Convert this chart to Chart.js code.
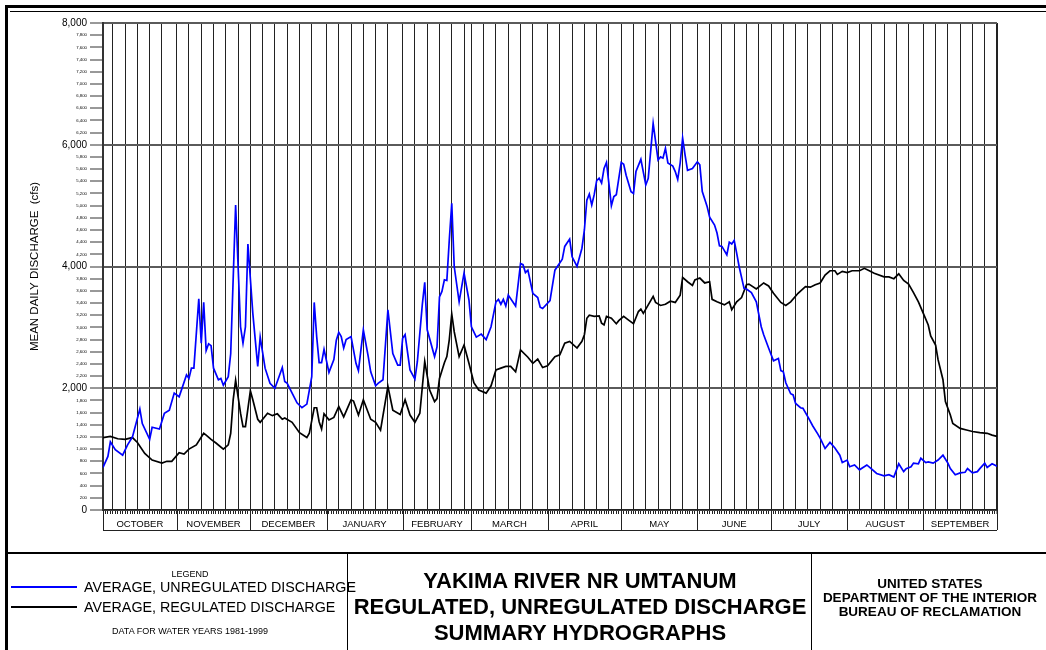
<!DOCTYPE html>
<html>
<head>
<meta charset="utf-8">
<script src="https://cdn.jsdelivr.net/npm/chart.js@4/dist/chart.umd.min.js"></script>
<style>
  body { margin: 0; background: #fff; }
  #page { position: relative; width: 1046px; height: 650px; overflow: hidden; font-family: "Liberation Sans", Arial, sans-serif; color: #000; }
  #hydro { position: absolute; left: 0; top: 0; }
  .rule { position: absolute; background: #000; }
  .t { position: absolute; white-space: nowrap; line-height: 1; }
  .c { transform: translateX(-50%); text-align: center; }
  .b { font-weight: bold; }
</style>
</head>
<body>
<div id="page">
  <canvas id="hydro" width="1046" height="650"></canvas>

  <!-- drawing frame -->
  <div class="rule" style="left:5px;top:5px;width:1041px;height:3px"></div>
  <div class="rule" style="left:10px;top:11px;width:1036px;height:1px"></div>
  <div class="rule" style="left:5px;top:5px;width:3px;height:645px"></div>
  <div class="rule" style="left:8px;top:552px;width:1038px;height:2px"></div>
  <div class="rule" style="left:347px;top:553px;width:1px;height:97px"></div>
  <div class="rule" style="left:811px;top:553px;width:1px;height:97px"></div>

  <!-- legend block -->
  <div class="t c" style="left:190px;top:570px;font-size:9px">LEGEND</div>
  <div class="rule" style="left:11px;top:586px;width:66px;height:2px;background:#0000ff"></div>
  <div class="t" style="left:84px;top:580px;font-size:14.3px">AVERAGE, UNREGULATED DISCHARGE</div>
  <div class="rule" style="left:11px;top:606px;width:66px;height:2px"></div>
  <div class="t" style="left:84px;top:600px;font-size:14.3px">AVERAGE, REGULATED DISCHARGE</div>
  <div class="t c" style="left:190px;top:627px;font-size:9px">DATA FOR WATER YEARS 1981-1999</div>

  <!-- title block -->
  <div class="t c b" style="left:580px;top:570px;font-size:22px">YAKIMA RIVER NR UMTANUM</div>
  <div class="t c b" style="left:580px;top:596px;font-size:22px">REGULATED, UNREGULATED DISCHARGE</div>
  <div class="t c b" style="left:580px;top:622px;font-size:22px">SUMMARY HYDROGRAPHS</div>

  <div class="t c b" style="left:930px;top:577px;font-size:13.5px">UNITED STATES</div>
  <div class="t c b" style="left:930px;top:591px;font-size:13.5px">DEPARTMENT OF THE INTERIOR</div>
  <div class="t c b" style="left:930px;top:605px;font-size:13.5px">BUREAU OF RECLAMATION</div>
</div>

<script>
// water year, day 0 = October 1
var MONTHS = ['OCTOBER', 'NOVEMBER', 'DECEMBER', 'JANUARY', 'FEBRUARY', 'MARCH',
              'APRIL', 'MAY', 'JUNE', 'JULY', 'AUGUST', 'SEPTEMBER'];
var MONTH_DAYS = [31, 30, 31, 31, 28, 31, 30, 31, 30, 31, 31, 30];

var Y_TICK_STEP = 200;
var Y_MAX = 8000;

// average unregulated discharge (cfs)
var unregDay = [0, 2, 3, 5, 8, 10, 12, 15, 16, 19, 20, 23, 25, 27, 29, 31, 34, 35, 36, 37,
  39, 40, 41, 42, 43, 44, 45, 47, 48, 49, 51, 52, 54, 56, 57, 58, 59, 61, 63, 64,
  66, 68, 70, 73, 74, 75, 77, 79, 81, 83, 85, 86, 87, 88, 89, 90, 92, 94, 95, 96,
  97, 98, 99, 101, 103, 104, 106, 108, 109, 111, 112, 114, 116, 118, 120, 121, 122, 123, 125, 127,
  128, 130, 131, 132, 135, 136, 137, 138, 139, 140, 141, 142, 143, 145, 147, 149, 150, 152, 154, 156,
  158, 160, 161, 162, 163, 164, 165, 168, 170, 171, 172, 173, 175, 177, 178, 179, 182, 184, 185, 187,
  188, 190, 191, 193, 195, 196, 197, 198, 199, 200, 201, 202, 203, 204, 205, 207, 208, 209, 211, 212,
  213, 215, 216, 217, 219, 221, 222, 224, 226, 227, 228, 229, 230, 232, 233, 234, 235, 236, 237, 238,
  240, 242, 243, 244, 246, 247, 249, 250, 251, 252, 254, 255, 256, 257, 258, 259, 261, 262, 264, 266,
  268, 269, 271, 273, 275, 276, 277, 278, 280, 281, 282, 284, 285, 287, 289, 291, 292, 294, 296, 298,
  300, 301, 303, 304, 306, 308, 311, 313, 315, 318, 320, 322, 324, 326, 327, 329, 330, 332, 333, 335,
  336, 338, 340, 342, 344, 345, 347, 349, 351, 352, 354, 356, 357, 359, 360, 362, 364];
var unregCfs = [700, 880, 1120, 990, 900, 1070, 1200, 1660, 1420, 1160, 1360, 1330, 1590, 1640, 1920, 1860, 2220, 2160, 2330, 2330,
  3470, 2740, 3410, 2620, 2730, 2700, 2330, 2140, 2160, 2050, 2190, 2570, 5010, 3010, 2740, 3010, 4370, 3230, 2360, 2840,
  2330, 2080, 2000, 2340, 2110, 2080, 1920, 1760, 1680, 1740, 2190, 3410, 2850, 2420, 2420, 2640, 2260, 2470, 2790, 2920,
  2850, 2660, 2800, 2850, 2410, 2290, 2960, 2520, 2270, 2040, 2080, 2140, 3290, 2570, 2380, 2380, 2820, 2880, 2300, 2150,
  2440, 3370, 3740, 2960, 2520, 2680, 3500, 3590, 3780, 3770, 4440, 5040, 4000, 3420, 3890, 3450, 3010, 2840, 2890, 2800,
  3010, 3420, 3460, 3380, 3460, 3350, 3530, 3350, 4050, 4030, 3900, 3940, 3560, 3490, 3330, 3310, 3440, 3940, 4000, 4120,
  4330, 4450, 4160, 4000, 4300, 4600, 5090, 5190, 5010, 5180, 5410, 5450, 5370, 5610, 5710, 5000, 5150, 5180, 5710, 5680,
  5500, 5230, 5200, 5560, 5760, 5340, 5450, 6350, 5750, 5800, 5780, 5940, 5700, 5650, 5560, 5430, 5700, 6110, 5830, 5580,
  5610, 5720, 5670, 5230, 4980, 4810, 4680, 4550, 4340, 4330, 4190, 4400, 4370, 4430, 4220, 4000, 3640, 3630, 3570, 3420,
  3010, 2880, 2660, 2450, 2490, 2290, 2270, 2090, 1910, 1890, 1750, 1680, 1670, 1530, 1380, 1250, 1180, 1010, 1110, 1020,
  900, 780, 820, 710, 740, 660, 740, 670, 600, 560, 580, 540, 760, 630, 680, 710, 770, 760, 850, 780,
  790, 770, 820, 900, 770, 680, 580, 610, 620, 680, 610, 630, 680, 770, 700, 760, 720];

// average regulated discharge (cfs)
var regDay = [0, 3, 6, 9, 12, 14, 17, 20, 24, 26, 28, 31, 33, 35, 38, 41, 42, 44, 46, 49,
  51, 52, 53, 54, 56, 57, 58, 60, 61, 63, 64, 67, 69, 71, 73, 74, 77, 80, 83, 84,
  86, 87, 88, 89, 90, 92, 94, 96, 98, 101, 102, 104, 106, 109, 111, 113, 116, 118, 121, 123,
  125, 127, 129, 131, 133, 135, 136, 137, 139, 140, 141, 142, 143, 145, 147, 149, 151, 153, 156, 158,
  160, 162, 164, 166, 168, 170, 173, 175, 177, 179, 181, 184, 186, 188, 190, 193, 195, 196, 197, 198,
  200, 202, 203, 204, 205, 207, 209, 210, 212, 214, 216, 218, 219, 220, 222, 224, 225, 227, 229, 231,
  233, 235, 236, 238, 240, 241, 243, 245, 247, 248, 250, 253, 255, 256, 258, 260, 262, 263, 266, 269,
  271, 273, 276, 278, 280, 283, 286, 288, 290, 292, 294, 296, 298, 299, 301, 303, 305, 308, 310, 312,
  314, 318, 320, 322, 324, 326, 328, 330, 332, 334, 336, 337, 339, 340, 342, 343, 345, 346, 349, 352,
  354, 357, 360, 362, 364];
var regCfs = [1190, 1210, 1170, 1160, 1190, 1110, 930, 820, 770, 800, 800, 940, 920, 1000, 1070, 1260, 1230, 1160, 1100, 1000,
  1070, 1260, 1810, 2130, 1590, 1370, 1370, 1960, 1810, 1490, 1440, 1590, 1550, 1580, 1490, 1510, 1440, 1270, 1190, 1260,
  1680, 1680, 1450, 1330, 1580, 1480, 1520, 1700, 1530, 1810, 1790, 1560, 1810, 1490, 1440, 1310, 2030, 1640, 1570, 1810,
  1560, 1440, 1590, 2440, 1970, 1780, 1830, 2160, 2420, 2520, 2800, 3220, 2930, 2520, 2710, 2410, 2090, 1970, 1920, 2040,
  2300, 2330, 2360, 2360, 2270, 2630, 2510, 2410, 2480, 2340, 2370, 2520, 2550, 2740, 2770, 2660, 2770, 2880, 3150, 3200,
  3180, 3190, 3070, 3040, 3180, 3150, 3060, 3110, 3180, 3120, 3060, 3260, 3300, 3230, 3370, 3510, 3410, 3360, 3380, 3430,
  3410, 3530, 3820, 3750, 3690, 3780, 3810, 3730, 3750, 3460, 3420, 3370, 3420, 3290, 3420, 3490, 3700, 3710, 3630, 3730,
  3680, 3560, 3410, 3360, 3420, 3560, 3670, 3660, 3700, 3730, 3860, 3930, 3930, 3870, 3920, 3900, 3930, 3930, 3970, 3930,
  3890, 3830, 3830, 3800, 3880, 3770, 3710, 3570, 3420, 3230, 3040, 2860, 2710, 2470, 2140, 1780, 1560, 1420, 1340, 1310,
  1290, 1270, 1260, 1230, 1210];

// month end days and 5-day marks for the vertical grid
var monthEnds = [];
var gridDays = new Set();
var acc = 0;
MONTH_DAYS.forEach(function (n) {
  [4, 9, 14, 19, 24].forEach(function (k) { gridDays.add(acc + k); });
  acc += n;
  monthEnds.push(acc - 1);
  gridDays.add(acc - 1);
});
var LAST_DAY = acc - 1;

function toPoints(days, vals) {
  return days.map(function (d, i) { return { x: d, y: vals[i] }; });
}

var monthBand = {
  id: 'monthBand',
  afterDraw: function (chart) {
    var ctx = chart.ctx, x = chart.scales.x;
    var top = x.top, bottom = x.top + 20;
    ctx.save();
    ctx.strokeStyle = '#222';
    ctx.lineWidth = 1;
    ctx.beginPath();
    ctx.moveTo(x.left, bottom + 0.5);
    ctx.lineTo(x.right, bottom + 0.5);
    var prev = 0;
    ctx.moveTo(Math.round(x.getPixelForValue(0)) + 0.5, top);
    ctx.lineTo(Math.round(x.getPixelForValue(0)) + 0.5, bottom);
    monthEnds.forEach(function (d) {
      var px = Math.round(x.getPixelForValue(d)) + 0.5;
      ctx.moveTo(px, top);
      ctx.lineTo(px, bottom);
    });
    ctx.stroke();
    ctx.fillStyle = '#000';
    ctx.font = '9.5px "Liberation Sans", Arial, sans-serif';
    ctx.textAlign = 'center';
    ctx.textBaseline = 'middle';
    monthEnds.forEach(function (d, i) {
      var mid = (x.getPixelForValue(prev) + x.getPixelForValue(d)) / 2;
      ctx.fillText(MONTHS[i], mid, top + 14);
      prev = d;
    });
    ctx.restore();
  }
};

new Chart(document.getElementById('hydro'), {
  type: 'line',
  data: {
    datasets: [{
      label: 'AVERAGE, UNREGULATED DISCHARGE',
      data: toPoints(unregDay, unregCfs),
      borderColor: '#0000ff',
      borderWidth: 1.7,
      pointRadius: 0,
      tension: 0
    }, {
      label: 'AVERAGE, REGULATED DISCHARGE',
      data: toPoints(regDay, regCfs),
      borderColor: '#000000',
      borderWidth: 1.7,
      pointRadius: 0,
      tension: 0
    }]
  },
  options: {
    responsive: false,
    animation: false,
    layout: { padding: { left: 28, top: 23, right: 49, bottom: 0 } },
    plugins: {
      legend: { display: false },
      tooltip: { enabled: false }
    },
    scales: {
      x: {
        type: 'linear',
        min: 0,
        max: LAST_DAY,
        afterBuildTicks: function (scale) {
          var t = [];
          for (var d = 0; d <= LAST_DAY; d++) t.push({ value: d });
          scale.ticks = t;
        },
        afterFit: function (scale) { scale.height = 140; },
        ticks: { display: false, autoSkip: false },
        grid: {
          color: function (c) { return gridDays.has(c.tick.value) ? '#222' : 'rgba(0,0,0,0)'; },
          lineWidth: function (c) { return c.tick.value === LAST_DAY ? 2 : 1; },
          tickColor: '#222',
          tickLength: 4,
          tickWidth: 1
        },
        border: { display: true, color: '#222', width: 1.5 }
      },
      y: {
        min: 0,
        max: Y_MAX,
        afterBuildTicks: function (scale) {
          var t = [];
          for (var v = 0; v <= Y_MAX; v += Y_TICK_STEP) t.push({ value: v });
          scale.ticks = t;
        },
        afterFit: function (scale) { scale.width = 75; },
        ticks: {
          autoSkip: false,
          padding: 3,
          color: '#000',
          callback: function (v) { return v.toLocaleString('en-US'); },
          font: function (c) {
            var major = c.tick && c.tick.value % 2000 === 0;
            return { family: '"Liberation Sans", Arial, sans-serif', size: major ? 10 : 4.3 };
          }
        },
        grid: {
          color: function (c) { return c.tick.value % 2000 === 0 ? '#5a5a5a' : 'rgba(0,0,0,0)'; },
          lineWidth: 2,
          tickColor: '#333',
          tickLength: 13,
          tickWidth: 1
        },
        border: { display: true, color: '#333', width: 2 },
        title: {
          display: true,
          text: 'MEAN DAILY DISCHARGE  (cfs)',
          color: '#000',
          padding: 0,
          font: { family: '"Liberation Sans", Arial, sans-serif', size: 11.5 }
        }
      }
    }
  },
  plugins: [monthBand]
});
</script>
</body>
</html>
